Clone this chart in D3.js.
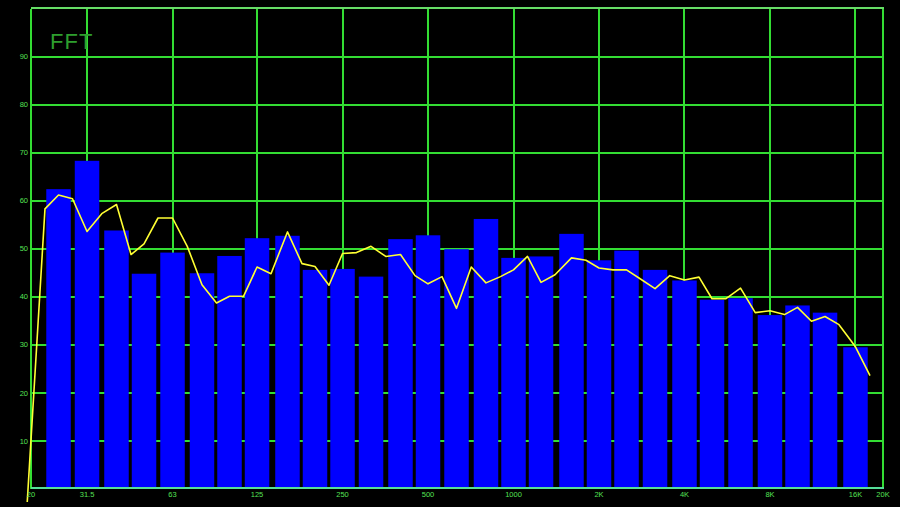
<!doctype html>
<html>
  <head>
    <meta charset="utf-8">
    <title>FFT</title>
    <script src="https://cdnjs.cloudflare.com/ajax/libs/d3/7.8.5/d3.min.js"></script>
    <style>
      body { margin: 0; background: #000; }
      svg { display: block; }
    </style>
  </head>
  <body>
    <div id="chart"></div>
    <script>
      // 1/3 octave band bars (dB)
      const barFreqs = [25, 31.5, 40, 50, 63, 80, 100, 125, 160, 200, 250, 315, 400, 500, 630, 800,
        1000, 1250, 1600, 2000, 2500, 3150, 4000, 5000, 6300, 8000, 10000, 12500, 16000];
      const barLevels = [62.4, 68.3, 53.8, 44.8, 49.2, 44.9, 48.5, 52.2, 52.7, 45.6, 45.8, 44.2, 52.0, 52.8, 49.9, 56.2,
        48.1, 48.4, 53.1, 47.6, 49.6, 45.6, 43.4, 39.4, 39.7, 36.2, 38.2, 36.7, 29.5];

      // 1/6 octave trace (yellow line)
      const lineFreqs = [19.4, 22.4, 25, 28, 31.5, 35.5, 40, 45, 50, 56, 63, 71, 80, 90, 100, 112, 125, 140,
        160, 180, 200, 224, 250, 280, 315, 355, 400, 450, 500, 560, 630, 710, 800, 900, 1000, 1120, 1250,
        1400, 1600, 1800, 2000, 2240, 2500, 2800, 3150, 3550, 4000, 4500, 5000, 5600, 6300, 7100, 8000,
        9000, 10000, 11200, 12500, 14000, 16000, 18000];
      const lineLevels = [-2.7, 58.3, 61.2, 60.4, 53.6, 57.3, 59.2, 48.8, 51.0, 56.4, 56.4, 50.5, 42.5, 38.7, 40.1, 40.1, 46.2, 44.8,
        53.5, 46.9, 46.3, 42.4, 49.0, 49.2, 50.5, 48.4, 48.8, 44.4, 42.7, 44.2, 37.6, 46.2, 42.9, 44.2, 45.6, 48.4, 43.0,
        44.6, 48.1, 47.6, 46.0, 45.6, 45.6, 43.7, 41.7, 44.4, 43.5, 44.1, 39.6, 39.6, 41.8, 36.7, 37.1,
        36.3, 37.8, 34.9, 35.9, 34.2, 29.6, 23.6];

      const xTicks = [20, 31.5, 63, 125, 250, 500, 1000, 2000, 4000, 8000, 16000, 20000];
      const xTickLabels = ['20', '31.5', '63', '125', '250', '500', '1000', '2K', '4K', '8K', '16K', '20K'];
      const yTicks = [10, 20, 30, 40, 50, 60, 70, 80, 90];

      const W = 900, H = 507;
      const plotLeft = 31, plotRight = 883, plotTop = 8.5, plotBottom = 489;
      const grid = '#33dd33';

      const x = d3.scaleLog().domain([20, 20000]).range([plotLeft, plotRight]);
      const y = d3.scaleLinear().domain([0, 100]).range([plotBottom, plotTop]);

      const svg = d3.select('#chart').append('svg')
        .attr('width', W)
        .attr('height', H);

      svg.append('rect').attr('width', W).attr('height', H).attr('fill', '#000');

      // grid
      const gridG = svg.append('g')
        .attr('stroke', grid)
        .attr('stroke-width', 2)
        .attr('shape-rendering', 'crispEdges');

      gridG.selectAll('line.h')
        .data(yTicks)
        .join('line')
        .attr('class', 'h')
        .attr('x1', plotLeft).attr('x2', plotRight)
        .attr('y1', d => Math.round(y(d))).attr('y2', d => Math.round(y(d)));

      gridG.selectAll('line.v')
        .data(xTicks)
        .join('line')
        .attr('class', 'v')
        .attr('x1', d => Math.round(x(d))).attr('x2', d => Math.round(x(d)))
        .attr('y1', plotTop).attr('y2', plotBottom);

      // top border
      svg.append('line')
        .attr('x1', plotLeft).attr('x2', plotRight + 1)
        .attr('y1', 8).attr('y2', 8)
        .attr('stroke', '#66dd66').attr('stroke-width', 2)
        .attr('shape-rendering', 'crispEdges');

      // bars
      const half = Math.pow(2, 1 / 6);
      svg.append('g')
        .selectAll('rect')
        .data(barFreqs)
        .join('rect')
        .attr('x', d => x(d / half) + 2)
        .attr('width', d => x(d * half) - x(d / half) - 4)
        .attr('y', (d, i) => y(barLevels[i]))
        .attr('height', (d, i) => y(0) - 2 - y(barLevels[i]))
        .attr('fill', '#0000ff');

      // bottom axis line
      svg.append('line')
        .attr('x1', plotLeft).attr('x2', plotRight + 1)
        .attr('y1', 488).attr('y2', 488)
        .attr('stroke', '#55dd99').attr('stroke-width', 2)
        .attr('shape-rendering', 'crispEdges');

      // trace
      const line = d3.line()
        .x(d => x(d[0]))
        .y(d => y(d[1]));

      svg.append('path')
        .datum(lineFreqs.map((f, i) => [f, lineLevels[i]]))
        .attr('d', line)
        .attr('fill', 'none')
        .attr('stroke', '#ffff33')
        .attr('stroke-width', 1.6)
        .attr('stroke-linejoin', 'round');

      // axis labels
      svg.append('g')
        .selectAll('text')
        .data(yTicks)
        .join('text')
        .attr('x', 28)
        .attr('y', d => y(d))
        .attr('dy', '0.35em')
        .attr('text-anchor', 'end')
        .attr('fill', '#55e055')
        .style('font', '7.5px "Liberation Sans", Arial, sans-serif')
        .text(d => d);

      svg.append('g')
        .selectAll('text')
        .data(xTicks)
        .join('text')
        .attr('x', d => x(d))
        .attr('y', 497)
        .attr('text-anchor', 'middle')
        .attr('fill', '#55e055')
        .style('font', '7.5px "Liberation Sans", Arial, sans-serif')
        .text((d, i) => xTickLabels[i]);

      // title
      svg.append('text')
        .attr('x', 50)
        .attr('y', 49)
        .attr('fill', '#2e9e2e')
        .attr('letter-spacing', 1)
        .style('font', '22px "Liberation Sans", Arial, sans-serif')
        .text('FFT');
    </script>
  </body>
</html>
